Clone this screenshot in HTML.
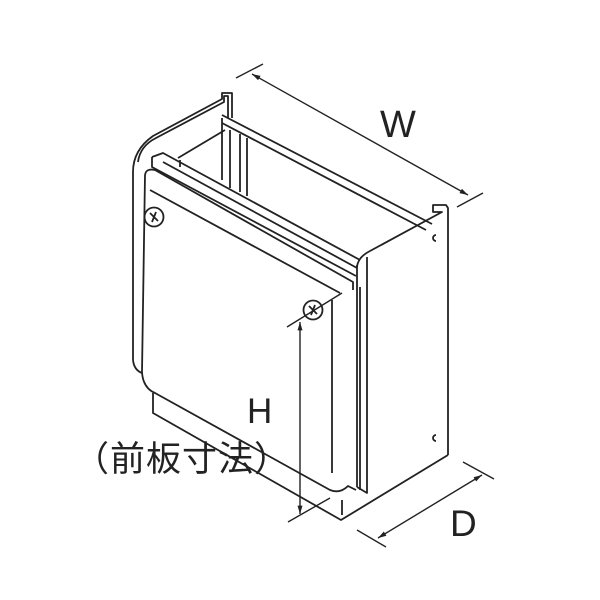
<!DOCTYPE html>
<html><head><meta charset="utf-8"><style>html,body{margin:0;padding:0;background:#fff}svg{display:block}</style></head>
<body>
<svg width="600" height="600" viewBox="0 0 600 600" xmlns="http://www.w3.org/2000/svg">
<defs><marker id="a" viewBox="0 0 10 10" refX="10" refY="5" markerWidth="6" markerHeight="6" orient="auto-start-reverse"><path d="M0,2 L10,5 L0,8 z" fill="#222"/></marker></defs>
<g fill="none" stroke="#222" stroke-width="1.8" stroke-linejoin="round">
<path d="M133,360 L133,172 Q133,150 153,136 L222,99 L222,93 L232,93 L232,118"/>
<path d="M138,162 Q140,146 156,138 L224,102 L224,96 L228,96 L228,118"/>
<path d="M133,360 Q134,370 142,373"/>
<path d="M222,115 L432,224"/>
<path d="M222,123 L426,230"/>
<path d="M222,118 L222,180 M230,130 L230,188 M240,134 L240,192 M247,138 L247,196"/>
<path d="M178,158 L225,130"/>
<path d="M180,160 L180,167"/>
<path d="M152,157 L163,153 L360,260"/>
<path d="M152,157 L152,167 L356,276"/>
<path d="M163,162 L357,268"/>
<path d="M145,175 Q146,168 155,170 L353,282 L353,290 M145,175 L142,372 Q143,388 155,393 L330,490 Q340,494 348,486 L356,490"/>
<path d="M150,190 L340,293"/>
<path d="M332,300 L332,473"/>
<path d="M357,267 Q358,257 370,251 L442,212 L433,212 L433,205 L446,205 L448,208 L448,455"/>
<path d="M357,265 L357,487 M367,257 L367,493 L357,487"/>
<path d="M360,287 L360,490"/>
<path d="M153,393 L153,413 L341,520 L448,455"/>
<path d="M342,500 L342,515"/>
<path d="M436,235 A3,3 0 1 0 436,241"/>
<path d="M436,435 A3,3 0 1 0 436,441"/>
<circle cx="154" cy="217" r="9.5"/>
<path d="M150,213 L158,221 M156,212 L152,222"/>
<circle cx="313" cy="310" r="9.5"/>
<path d="M309,306 L317,314 M315,305 L311,315"/>
</g>
<g stroke="#222" stroke-width="1.4" fill="none">
<path d="M236,78 L263,64 M457,207 L483,193"/>
<path d="M252,74 L468,195" marker-start="url(#a)" marker-end="url(#a)"/>
<path d="M357,530 L386,547 M463,462 L494,479"/>
<path d="M378,538 L482,475" marker-start="url(#a)" marker-end="url(#a)"/>
<path d="M287,327 L342,293 M288,522 L330,498"/>
<path d="M300,322 L300,514" marker-start="url(#a)" marker-end="url(#a)"/>
</g>
<g font-family="Liberation Sans, sans-serif" fill="#222">
<text x="380" y="137" font-size="38">W</text>
<text x="247" y="423" font-size="35">H</text>
<text x="450" y="536" font-size="37">D</text>
<text x="74" y="471" font-size="35" letter-spacing="1" font-family="'Noto Sans CJK JP', sans-serif">（前板寸法）</text>
</g>
</svg>
</body></html>
